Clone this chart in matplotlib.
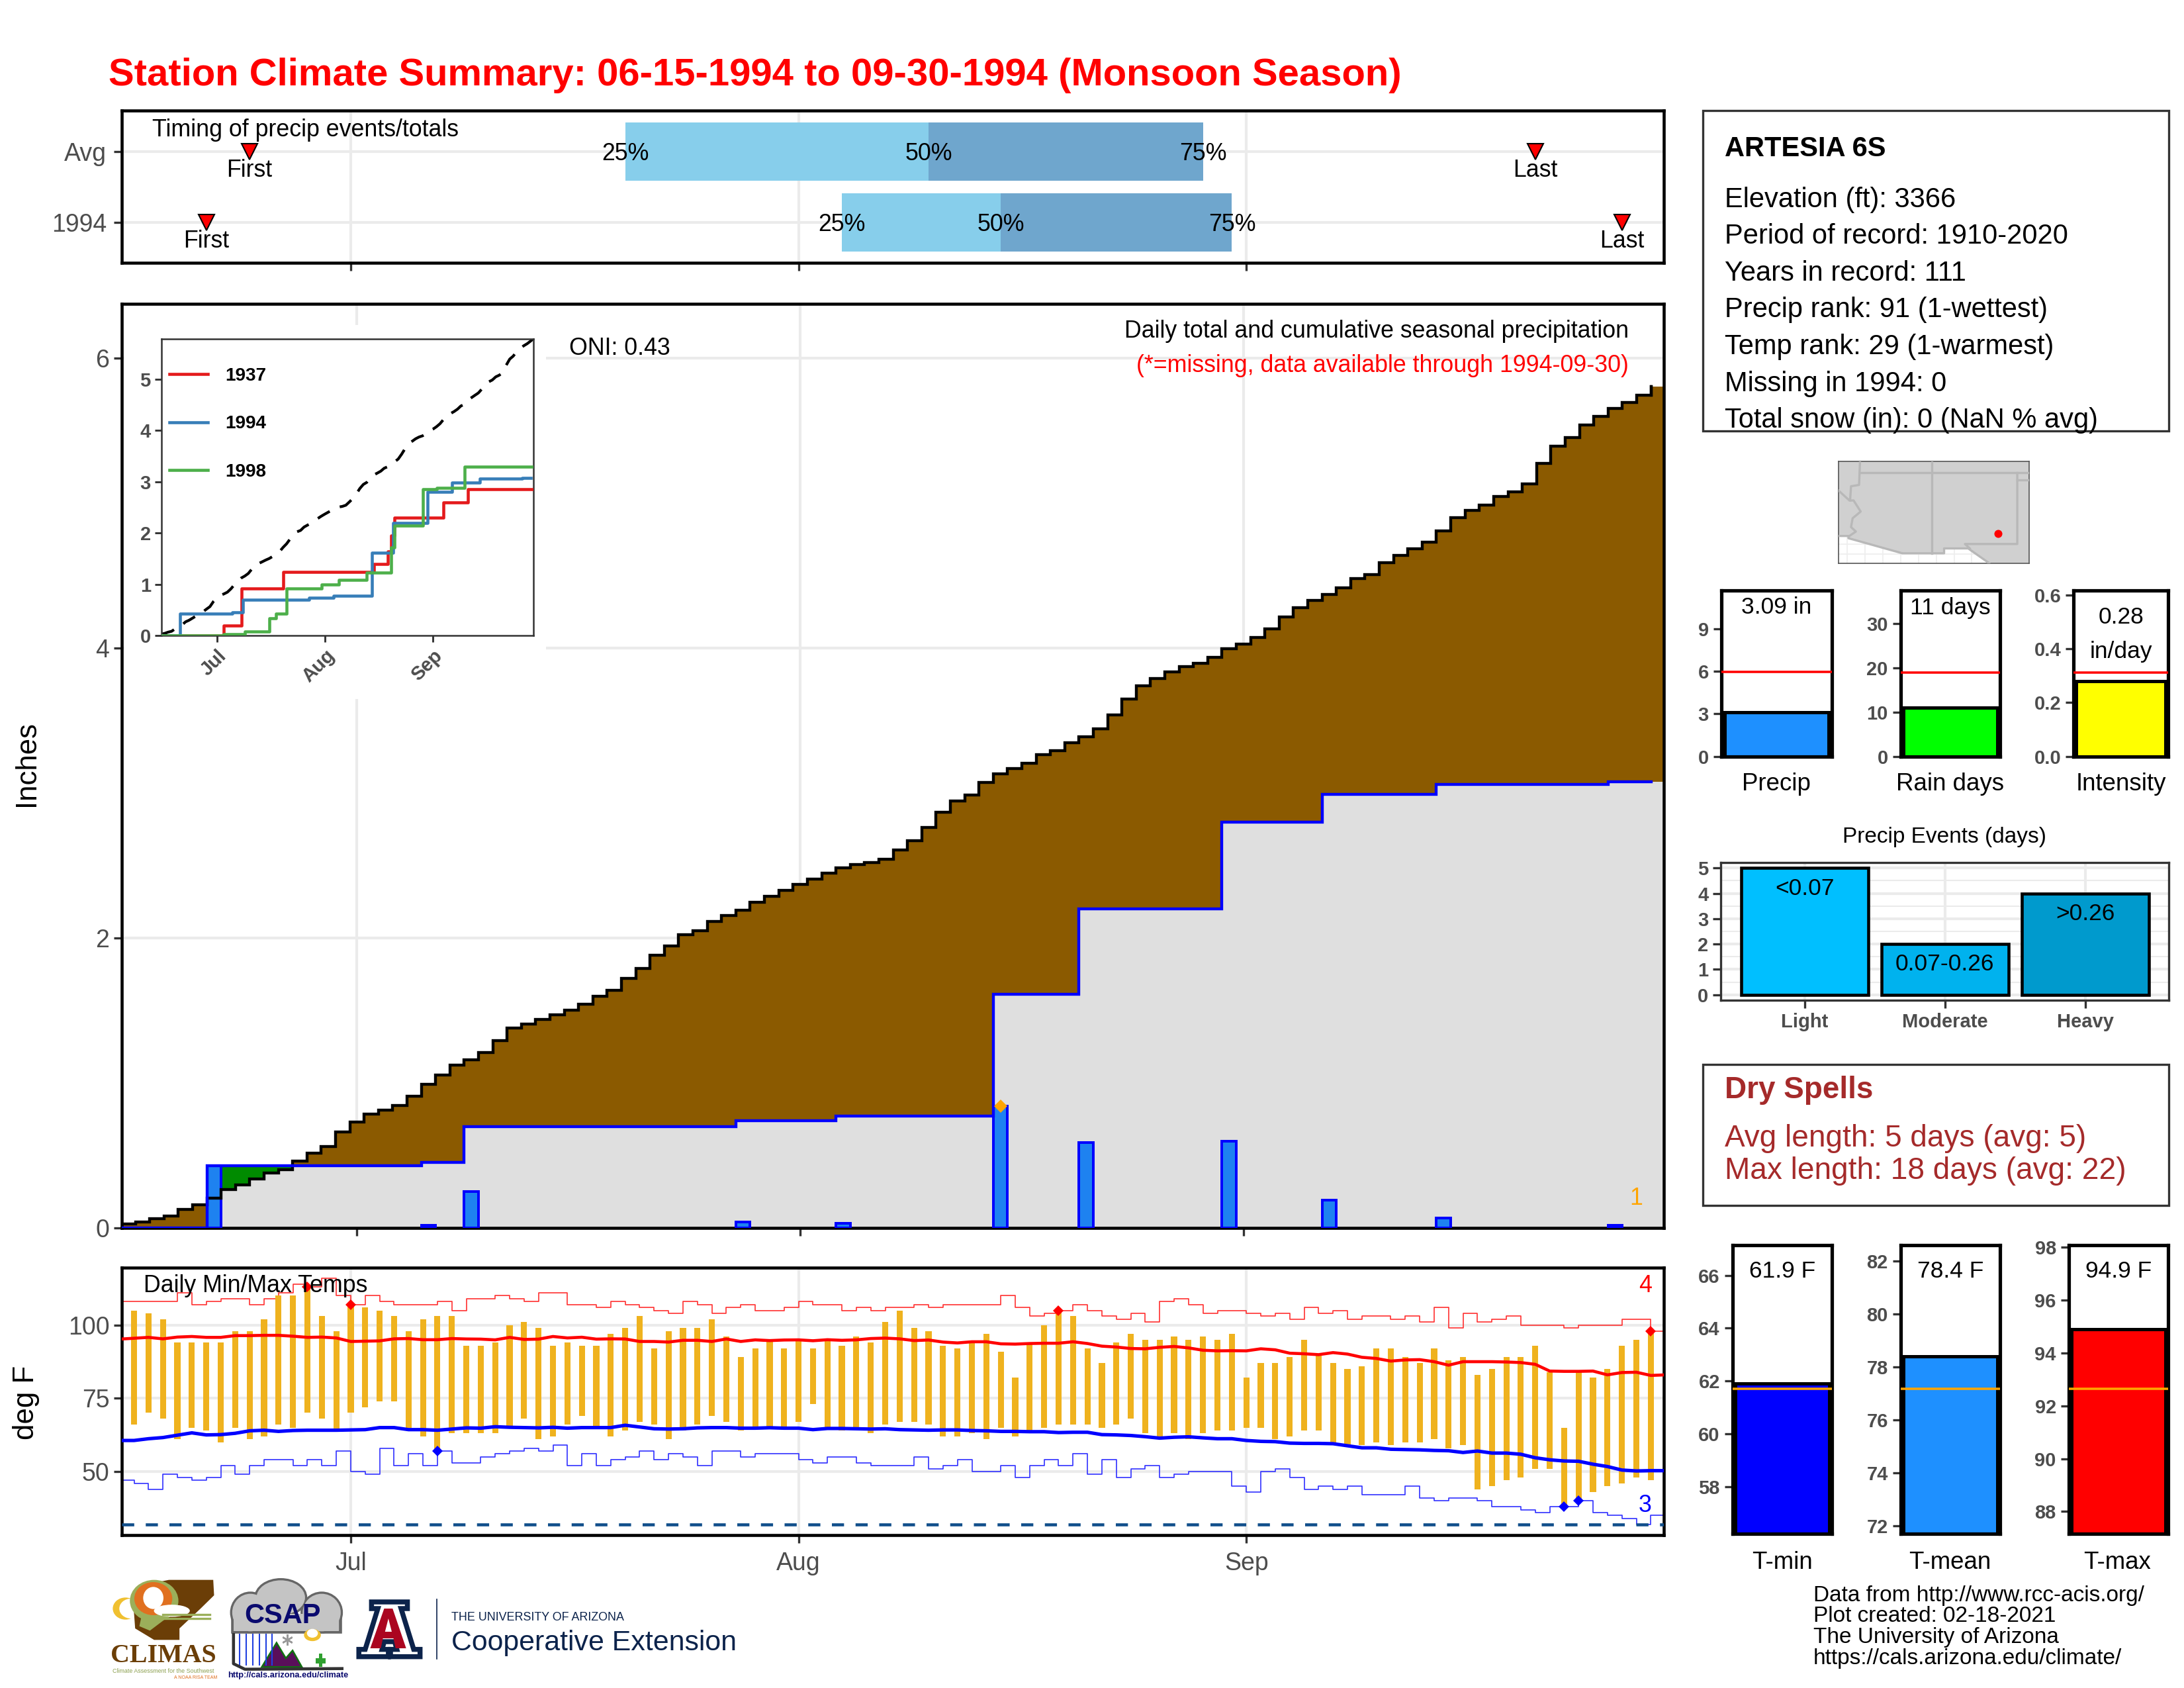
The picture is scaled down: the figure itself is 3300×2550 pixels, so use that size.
import numpy as np
import matplotlib
matplotlib.use("Agg")
import matplotlib.pyplot as plt
from matplotlib.patches import Rectangle, Ellipse, Polygon
from matplotlib.ticker import FixedLocator

plt.rcParams['font.family'] = ['Liberation Sans', 'DejaVu Sans']

W, H = 3300, 2550
# ---------------- data ----------------
month_ticks = [16, 47, 78]
month_labels = ['Jul', 'Aug', 'Sep']

avg_cum = [0.026,0.041,0.065,0.082,0.128,0.16,0.205,0.266,0.297,0.338,0.38,0.403,0.461,0.514,0.563,
           0.662,0.73,0.784,0.811,0.845,0.909,0.989,1.055,1.122,1.16,1.21,1.294,1.38,1.405,1.438,
           1.472,1.502,1.542,1.598,1.639,1.72,1.79,1.883,1.944,2.024,2.05,2.116,2.154,2.192,2.245,
           2.286,2.33,2.37,2.408,2.447,2.484,2.507,2.519,2.542,2.606,2.673,2.763,2.868,2.947,2.988,
           3.075,3.133,3.168,3.206,3.264,3.293,3.346,3.39,3.442,3.538,3.649,3.742,3.789,3.838,3.873,
           3.896,3.937,3.995,4.027,4.074,4.132,4.214,4.278,4.33,4.368,4.415,4.479,4.508,4.589,4.639,
           4.686,4.732,4.808,4.898,4.95,4.985,5.047,5.079,5.131,5.274,5.393,5.451,5.539,5.597,5.652,
           5.693,5.745,5.804]
rain_days = [6, 21, 24, 43, 50, 61, 67, 77, 84, 92, 104]
rain_vals = [0.43, 0.02, 0.25, 0.04, 0.03, 0.84, 0.59, 0.60, 0.19, 0.07, 0.02]

# Inset: other years (day of change, cumulative)
y1937_days = [0, 18, 23, 35, 61, 65, 66, 67, 81, 88, 107]
y1937_vals = [0, 0.20, 0.92, 1.245, 1.39, 1.64, 1.95, 2.30, 2.59, 2.86, 2.86]
y1998_days = [0, 18, 24, 31, 33, 36, 46, 51, 59, 66, 67, 75, 79, 87, 107]
y1998_vals = [0, 0.03, 0.08, 0.34, 0.42, 0.92, 1.0, 1.09, 1.23, 1.72, 2.15, 2.86, 2.88, 3.29, 3.29]
inset_years = ['1937', '1994', '1998']

tmax = [105,104,102,94,94,94,94,98,98,102,110,110,113,103,98,107,106,105,103,98,102,103,103,93,93,94,
        100,101,99,93,94,93,93,97,99,103,92,98,99,99,102,96,89,92,95,92,95,92,95,93,96,94,101,105,99,
        98,93,92,94,97,91,82,94,100,105,103,92,87,94,97,95,95,96,95,96,95,97,82,87,87,89,95,90,87,85,
        86,92,92,89,87,92,88,89,83,85,89,89,93,84,65,84,82,85,93,95,98]
tmin = [66,70,68,61,65,64,60,65,61,62,66,65,70,68,64,70,72,74,74,65,62,57,63,63,63,63,65,68,61,62,66,
        69,65,62,64,67,66,61,64,66,69,67,64,65,65,65,67,73,65,64,65,63,66,67,67,66,62,62,63,61,65,62,
        64,65,66,66,66,65,66,68,63,62,63,61,63,64,64,65,65,61,62,64,64,60,59,59,60,59,60,60,61,58,59,
        44,45,47,48,51,51,38,40,43,45,46,48,47]
mean_high = [95.2,95.5,95.8,95.3,95.9,96.1,95.8,95.8,96.4,96.4,96.5,96.5,96.2,95.8,95.9,95.6,94.4,94.5,
             94.6,95.3,95.4,95.0,95.0,95.4,95.25,95.2,94.95,95.8,95.1,95.2,96.1,95.6,95.85,95.2,95.3,
             95.25,94.4,94.4,94.2,94.8,94.8,94.4,95.25,94.4,94.95,94.7,94.9,94.95,94.65,95.0,94.8,
             94.95,95.4,95.55,95.3,94.7,94.9,94.2,93.9,94.3,94.3,93.6,93.5,93.7,93.8,93.8,94.3,93.7,
             92.8,92.5,92.0,91.9,92.4,92.7,92.2,91.4,91.2,91.25,91.2,91.9,91.55,90.4,90.2,89.9,90.6,
             90.1,89.0,88.6,87.7,88.1,88.2,87.5,86.3,87.5,87.5,87.5,87.4,87.2,86.6,84.3,84.2,84.2,
             84.3,83.0,83.8,83.9,82.8,83.0]
mean_low = [60.6,60.6,61.2,61.6,62.4,63.2,62.5,62.6,63.05,63.9,64.1,63.7,64.0,64.1,64.1,64.1,64.2,64.3,
            65.0,65.0,64.3,64.3,64.1,64.5,64.9,64.8,65.3,65.1,65.0,64.9,65.1,64.8,65.0,65.0,65.0,65.8,
            65.2,64.6,64.5,64.6,64.9,65.0,65.0,64.8,64.8,64.95,64.8,64.8,64.3,64.7,64.7,64.6,64.5,64.6,
            64.3,64.2,64.1,64.2,64.2,64.0,63.9,63.7,63.7,63.6,63.6,63.3,63.4,63.4,62.6,62.5,62.3,61.9,
            61.4,61.7,61.85,61.5,61.2,61.2,60.6,60.3,60.2,59.7,59.6,59.6,59.5,58.8,58.1,58.1,57.6,57.5,
            57.4,57.2,57.1,56.5,57.0,56.3,56.3,55.9,54.7,54.0,53.6,53.5,52.5,51.7,50.5,50.2,50.3,50.3]
rec_high = [108,108,108,108,111,107,108,109,109,107,109,111,114,113,116,110,107,110,108,107,107,107,108,
            105,109,109,110,109,108,111,111,107,107,106,108,107,106,105,104,108,107,104,106,107,105,105,
            106,108,107,107,105,106,105,106,106,107,106,107,107,107,107,110,106,103,104,105,107,105,103,
            102,104,101,108,109,107,104,105,105,104,103,104,102,106,104,105,102,103,103,102,103,101,106,
            99,104,101,102,103,100,100,100,99,100,100,100,102,102,98,98]
rec_low = [47,46,44,49,48,47,48,52,49,52,54,54,52,54,52,57,50,49,58,52,56,52,57,53,53,55,56,57,58,57,59,
           52,56,52,54,55,57,54,56,55,52,57,57,55,56,56,56,54,53,55,55,53,52,52,52,55,51,52,54,50,50,52,
           48,52,54,52,56,49,54,48,51,52,48,49,50,50,50,45,43,50,51,48,44,45,44,45,42,42,42,45,41,40,41,
           41,40,38,38,37,36,38,38,40,36,35,34,32,35,35]
freeze_line = 32
rec_high_days = [13, 16, 65, 106]
rec_high_vals = [113, 107, 105, 98]
rec_low_days = [22, 100, 101]
rec_low_vals = [57, 38, 40]

timing_years = ['1994', 'Avg']
first_day = [6, 9]
last_day = [104, 98]
q25 = [50, 35]
q50 = [61, 56]
q75 = [77, 75]

precip_total, precip_avg = 3.09, 5.95
rain_total, rain_avg = 11, 18.9
intensity, intensity_avg = 0.28, 0.3125
event_cats = ['Light', 'Moderate', 'Heavy']
event_vals = [5, 2, 4]
event_labels = ['<0.07', '0.07-0.26', '>0.26']
event_colors = ['#00BFFF', '#00B2EE', '#009ACD']
temp_vals = [61.9, 78.4, 94.9]
temp_avgs = [61.7, 77.16, 92.63]
temp_cols = ['#0000FF', '#1E90FF', '#FF0000']
temp_names = ['T-min', 'T-mean', 'T-max']
temp_labels = ['61.9 F', '78.4 F', '94.9 F']

info_lines = ['Elevation (ft): 3366', 'Period of record: 1910-2020', 'Years in record: 111',
              'Precip rank: 91 (1-wettest)', 'Temp rank: 29 (1-warmest)', 'Missing in 1994: 0',
              'Total snow (in): 0 (NaN % avg)']
footer_lines = ['Data from http://www.rcc-acis.org/', 'Plot created: 02-18-2021',
                'The University of Arizona', 'https://cals.arizona.edu/climate/']

# Map outline, in the map panel's own units
land_x = [490,490,522,522,690,820,820,895,960,1085,1085]
land_y = [817,985,985,990,1024,1024,1013,1013,1046,1046,817]
river_x = [490,525,538,560,535,530,545,525]
river_y = [882,905,905,930,945,965,975,985]
border_ne_x = [527,530,555,558]
border_ne_y = [905,873,870,817]
border_n_x = [558,1085]; border_n_y = [843,843]
border_mid_x = [781,781]; border_mid_y = [817,1024]
border_e_x = [1048,1048,885,900]; border_e_y = [843,1003,1003,1013]
border_ok_x = [1048,1085]; border_ok_y = [858,858]
station_x, station_y = 988, 979

# ---------------- helpers ----------------
GRID = '#EBEBEB'; TICK = '#333333'; LAB = '#4D4D4D'

fig = plt.figure(figsize=(11, 8.5), dpi=300, facecolor='white')

def pax(l, t, r, b, **kw):
    return fig.add_axes([l/W, 1-b/H, (r-l)/W, (b-t)/H], **kw)

def frame(ax, lw=1.1, color='black'):
    for s in ax.spines.values():
        s.set_linewidth(lw); s.set_color(color)

def ticks(ax, size=9, bold=False, length=2.9, width=0.8, pad=1.6):
    ax.tick_params(axis='both', length=length, width=width, color=TICK, labelcolor=LAB,
                   labelsize=size, pad=pad)
    if bold:
        for t in ax.get_xticklabels()+ax.get_yticklabels():
            t.set_fontweight('bold')

def stepify(y):
    y = np.asarray(y, float)
    i = np.arange(len(y))
    xs = np.column_stack([i-0.5, i+0.5]).ravel()
    ys = np.repeat(y, 2)
    return xs, ys

days = np.arange(len(avg_cum))
daily = np.zeros(len(avg_cum)); daily[rain_days] = rain_vals
obs_cum = np.cumsum(daily)
tdays = np.arange(1, len(tmax)+1)
line_days = np.arange(len(mean_high))

# ---------------- timing panel ----------------
XLIM2 = (0.15, 106.9)
a = pax(184, 167, 2514, 397)
a.set_xlim(*XLIM2); a.set_ylim(0.43, 2.58)
a.set_axisbelow(True)
a.set_xticks(month_ticks); a.set_xticklabels([])
a.set_yticks([1, 2]); a.set_yticklabels(timing_years)
a.grid(True, color=GRID, lw=1)
pos = [1, 2]
a.barh(pos, np.subtract(q50, q25), left=q25, height=0.83, color='#87CEEB', zorder=2)
a.barh(pos, np.subtract(q75, q50), left=q50, height=0.83, color='#6FA6CD', zorder=2)
a.plot(first_day, pos, 'v', color='red', mec='black', mew=0.5, ms=5.6, zorder=3, ls='none')
a.plot(last_day, pos, 'v', color='red', mec='black', mew=0.5, ms=5.6, zorder=3, ls='none')
for i, p in enumerate(pos):
    for q, s in zip((q25[i], q50[i], q75[i]), ('25%', '50%', '75%')):
        a.text(q, p-0.03, s, ha='center', va='center', fontsize=8.6, zorder=4)
    a.text(first_day[i], p-0.265, 'First', ha='center', va='center', fontsize=8.6, zorder=4)
    a.text(last_day[i], p-0.265, 'Last', ha='center', va='center', fontsize=8.6, zorder=4)
ticks(a, 9, pad=2.6)
frame(a)

# ---------------- main precip panel ----------------
m = pax(184, 459, 2514, 1855)
m.set_xlim(-0.45, 107.4); m.set_ylim(0, 6.375)
m.set_axisbelow(True)
m.set_xticks(month_ticks); m.set_xticklabels([])
m.set_yticks([0, 2, 4, 6])
m.grid(True, color=GRID, lw=1)
xs, ya = stepify(avg_cum)
_, yo = stepify(obs_cum)
m.fill_between(xs, 0, np.minimum(ya, yo), color='#DFDFDF', lw=0, zorder=2)
m.fill_between(xs, yo, ya, where=ya >= yo, color='#8B5A00', lw=0, zorder=2)
m.fill_between(xs, ya, yo, where=yo >= ya, color='#008B00', lw=0, zorder=2)
m.bar(rain_days, rain_vals, width=1.0, color='#1E82F0', edgecolor='#0000FF', lw=0.95, zorder=3)
m.plot(xs[:-1], ya[:-1], color='black', lw=1.05, zorder=4, solid_joinstyle='miter', clip_on=True)
m.plot([xs[-2]]*2, [ya[-3], ya[-1]], color='black', lw=1.05, zorder=4)
m.plot(xs[:-2], yo[:-2], color='#0000FF', lw=1.05, zorder=5, solid_joinstyle='miter')
m.plot([rain_days[5]], [rain_vals[5]], 'D', color='#FFA500', ms=3.4, mew=0, zorder=6)
ticks(m, 9)
frame(m)

# white backing of the inset
fig.add_artist(Rectangle((188/W, 1-1056/H), (825-188)/W, (1056-491)/H, transform=fig.transFigure,
                         fc='white', ec='none', zorder=2))

# ---------------- inset ----------------
n = pax(244, 512.5, 806, 960)
n.set_zorder(3)
n.set_xlim(0.1, 106.8); n.set_ylim(0, 5.78)
n.plot(days, avg_cum, color='black', lw=1.0, dashes=(5, 4), zorder=2)
l37, = n.step(y1937_days, y1937_vals, where='post', color='#E41A1C', lw=1.1, label=inset_years[0], zorder=3)
l94, = n.step(days[:-1], obs_cum[:-1], where='mid', color='#377EB8', lw=1.1, label=inset_years[1], zorder=3)
l98, = n.step(y1998_days, y1998_vals, where='post', color='#4DAF4A', lw=1.1, label=inset_years[2], zorder=4)
leg = n.legend(handles=[l37, l94, l98], loc='upper left', frameon=False, prop={'size': 6.7, 'weight': 'bold'},
               handlelength=2.05, handletextpad=0.96, labelspacing=1.66, borderaxespad=0, borderpad=0,
               bbox_to_anchor=(0.022, 0.905))
n.set_xticks(month_ticks); n.set_xticklabels(month_labels)
n.set_yticks(range(6))
ticks(n, 7, True, length=2.3, width=0.7)
for t in n.get_xticklabels():
    t.set_rotation(45); t.set_ha('right'); t.set_rotation_mode('anchor'); t.set_va('top')
frame(n, 0.6, '#333333')

# ---------------- temperature panel ----------------
t = pax(184, 1915, 2514, 2319)
t.set_xlim(*XLIM2); t.set_ylim(28.3, 119.6)
t.set_axisbelow(True)
t.set_xticks(month_ticks); t.set_xticklabels(month_labels)
t.set_yticks([50, 75, 100])
t.grid(True, color=GRID, lw=1)
t.step(line_days, rec_high, where='post', color='#FF3030', lw=0.4, zorder=2)
t.step(line_days, rec_low, where='post', color='#3030FF', lw=0.4, zorder=2)
t.bar(tdays, np.subtract(tmax, tmin), bottom=tmin, width=0.42, color='#EFB21E', lw=0, zorder=3)
t.plot(line_days, mean_high, color='#FF0000', lw=1.1, zorder=4)
t.plot(line_days, mean_low, color='#0000FF', lw=1.25, zorder=4)
t.axhline(freeze_line, color='#104E8B', lw=1.1, dashes=(4, 3.8), zorder=4)
t.plot(rec_high_days, rec_high_vals, 'D', color='#FF0000', ms=2.7, mew=0, zorder=5, ls='none')
t.plot(rec_low_days, rec_low_vals, 'D', color='#0000FF', ms=2.7, mew=0, zorder=5, ls='none')
ticks(t, 9)
t.tick_params(axis='x', pad=3)
frame(t)

# ---------------- small bar panels ----------------
def small_bar(box, val, col, avg, ylim, yt, avgcol='red', ytl=None, lw=1.2):
    ax = pax(*box)
    ax.set_xlim(-0.478, 0.478); ax.set_ylim(*ylim)
    ax.set_xticks([]); ax.set_yticks(yt)
    if ytl: ax.set_yticklabels(ytl)
    ax.bar([0], [val-ylim[0]], bottom=ylim[0], width=0.9, color=col, edgecolor='black', lw=lw, zorder=2)
    ax.axhline(avg, color=avgcol, lw=0.85, zorder=3)
    ticks(ax, 7, True)
    frame(ax, 1.25)
    return ax

p1 = small_bar((2600.6, 892, 2768, 1142.6), precip_total, '#1E90FF', precip_avg, (0, 11.7), [0, 3, 6, 9])
p1.text(0, 10.5, '3.09 in', ha='center', va='center', fontsize=8.5)
p2 = small_bar((2871.6, 892, 3022, 1142.6), rain_total, '#00FF00', rain_avg, (0, 37.5), [0, 10, 20, 30])
p2.text(0, 33.6, '11 days', ha='center', va='center', fontsize=8.5)
p3 = small_bar((3133, 892, 3276, 1142.6), intensity, '#FFFF00', intensity_avg, (0, 0.618), [0, 0.2, 0.4, 0.6],
               ytl=['0.0', '0.2', '0.4', '0.6'])
p3.text(0, 0.518, '0.28', ha='center', va='center', fontsize=8.5)
p3.text(0, 0.389, 'in/day', ha='center', va='center', fontsize=8.5)

tboxes = [(2617.6, 1881, 2768, 2317), (2871.6, 1881, 3022, 2317), (3125.6, 1881, 3276, 2317)]
tlims = [(56.22, 67.14), (71.7, 82.59), (87.16, 98.07)]
tticks = [[58, 60, 62, 64, 66], [72, 74, 76, 78, 80, 82], [88, 90, 92, 94, 96, 98]]
tlaby = [66.16, 81.6, 97.08]
for i in range(3):
    q = small_bar(tboxes[i], temp_vals[i], temp_cols[i], temp_avgs[i], tlims[i], tticks[i], avgcol='#FFA500')
    q.text(0, tlaby[i], temp_labels[i], ha='center', va='center', fontsize=8.5)

# ---------------- precip events ----------------
e = pax(2600, 1303, 3277, 1511)
e.set_xlim(-0.597, 2.595); e.set_ylim(-0.217, 5.217)
e.set_axisbelow(True)
e.set_xticks(range(3)); e.set_xticklabels(event_cats)
e.set_yticks(range(6))
e.yaxis.set_minor_locator(FixedLocator(np.arange(0.5, 5, 1)))
e.grid(True, which='major', color=GRID, lw=1)
e.grid(True, which='minor', axis='y', color=GRID, lw=0.5)
e.tick_params(which='minor', length=0)
e.bar(range(3), event_vals, width=0.906, color=event_colors, edgecolor='black', lw=1.1, zorder=2)
for i, (s, off) in enumerate(zip(event_labels, (0.82, 0.80, 0.82))):
    e.text(i, event_vals[i]-off, s, ha='center', va='center', fontsize=8.5, zorder=3)
ticks(e, 7, True)
frame(e, 0.8, '#333333')

# ---------------- map ----------------
g = pax(2777.5, 697, 3066, 850.6)
g.set_xlim(490, 1085); g.set_ylim(1046, 817)
g.set_xticks(np.arange(518, 1000, 55.5)); g.set_yticks([1003, 1025])
g.tick_params(length=0, labelbottom=False, labelleft=False)
g.grid(True, color='#EEEEEE', lw=0.4); g.set_axisbelow(True)
g.fill(land_x, land_y, color='#D0D0D0', lw=0, zorder=2)
for bx, by in ((river_x, river_y), (border_ne_x, border_ne_y), (border_n_x, border_n_y),
               (border_mid_x, border_mid_y), (border_e_x, border_e_y), (border_ok_x, border_ok_y),
               (land_x[1:9], land_y[1:9])):
    g.plot(bx, by, color='#B8B8B8', lw=0.8, zorder=3)
g.plot([station_x], [station_y], 'o', color='red', ms=2.9, mew=0, zorder=4)
frame(g, 0.4, '#555555')

# ---------------- overlay (text, boxes, logos) in pixel units ----------------
o = fig.add_axes([0, 0, 1, 1], facecolor='none')
o.set_zorder(10)
o.set_xlim(0, W); o.set_ylim(H, 0); o.axis('off')

def ot(x, y, s, **kw):
    kw.setdefault('va', 'center')
    return o.text(x, y+4, s, **kw)

ot(164, 110, 'Station Climate Summary: 06-15-1994 to 09-30-1994 (Monsoon Season)', color='red',
   fontsize=13.91, fontweight='bold', ha='left')
ot(230, 193, 'Timing of precip events/totals', fontsize=8.6)
ot(860, 522, 'ONI: 0.43', fontsize=8.6)
ot(2461, 497, 'Daily total and cumulative seasonal precipitation', fontsize=8.6, ha='right')
ot(2461, 549, '(*=missing, data available through 1994-09-30)', fontsize=8.6, color='red', ha='right')
ot(2472, 1806, '1', fontsize=8.6, color='#FFA500', ha='center')
ot(217, 1939, 'Daily Min/Max Temps', fontsize=8.6)
ot(2486, 1939, '4', fontsize=8.6, color='red', ha='center')
ot(2486, 2270, '3', fontsize=8.6, color='blue', ha='center')
o.text(40, 1153, 'Inches', fontsize=10.5, rotation=90, va='center', ha='center')
o.text(40, 2119, 'deg F', fontsize=10.5, rotation=90, va='center', ha='center')

# station box
o.add_patch(Rectangle((2573, 167), 704, 484, fc='none', ec='#333333', lw=0.8))
ot(2606, 221, 'ARTESIA 6S', fontsize=10, fontweight='bold')
for i, s in enumerate(info_lines):
    ot(2606, 298+55.5*i, s, fontsize=10)

for s, x in zip(('Precip', 'Rain days', 'Intensity'), (2684, 2947, 3205)):
    ot(x, 1181, s, fontsize=8.8, ha='center')
ot(2938, 1261, 'Precip Events (days)', fontsize=8, ha='center')
o.add_patch(Rectangle((2573, 1608), 704, 212.6, fc='none', ec='#333333', lw=0.8))
ot(2606, 1643, 'Dry Spells', fontsize=11, fontweight='bold', color='#A52A2A')
ot(2606, 1716, 'Avg length: 5 days (avg: 5)', fontsize=11.05, color='#A52A2A')
ot(2606, 1765, 'Max length: 18 days (avg: 22)', fontsize=11.05, color='#A52A2A')
for i, x in enumerate((2693, 2946, 3199)):
    ot(x, 2357, temp_names[i], fontsize=8.8, ha='center')
for i, s in enumerate(footer_lines):
    ot(2740, 2406+31.7*i, s, fontsize=8.03)

# logos (simplified redraws)
def zp(zx, zy):
    return 150+zx/1.568, 2350+zy/3

def zpoly(pts, **kw):
    o.add_patch(Polygon([zp(*p) for p in pts], closed=True, **kw))

def zell(cx, cy, w, h, **kw):
    o.add_patch(Ellipse(zp(cx, cy), w/1.568, h/3, **kw))

zell(62, 240, 60, 100, fc='#F0C030', ec='none')
zell(75, 240, 55, 90, fc='white', ec='none')
zpoly([(165,110),(270,110),(272,180),(240,240),(190,330),(190,382),(130,382),(85,330),(80,200),(110,130)], fc='#6B3E07', ec='none')
zell(130, 205, 115, 190, fc='#9BAF5A', ec='none')
zell(128, 195, 90, 150, fc='#E07020', ec='none')
zell(128, 192, 48, 100, fc='white', ec='none')
zell(172, 250, 85, 55, fc='white', ec='none')
zpoly([(100,275),(165,275),(120,340),(95,320)], fc='#9BAF5A', ec='none')
o.plot(*zip(zp(150, 268), zp(262, 268)), color='#9BAF5A', lw=0.8)
o.plot(*zip(zp(150, 285), zp(262, 285)), color='#9BAF5A', lw=0.8)
ax, ay = zp(152, 455)
o.text(ax, ay, 'CLIMAS', family=['Liberation Serif'], fontsize=9.6, fontweight='bold', color='#6B3E07', ha='center', va='center')
ax, ay = zp(152, 524)
o.text(ax, ay, 'Climate Assessment for the Southwest', fontsize=2.15, color='#8CA050', ha='center', va='center')
ax, ay = zp(228, 553)
o.text(ax, ay, 'A NOAA RISA TEAM', fontsize=1.7, color='#E07020', ha='center', va='center')

cloud_ell = [(430, 190, 115, 156), (358, 258, 86, 170), (527, 258, 90, 170)]
for cx, cy, w_, h_ in cloud_ell:
    zell(cx, cy, w_, h_, fc='#C4C4C4', ec='#666666', lw=1.6)
o.add_patch(Rectangle(zp(315, 270), 255/1.568, 76/3, fc='#C4C4C4', ec='#666666', lw=1.1))
for cx, cy, w_, h_ in cloud_ell:
    zell(cx, cy, w_, h_, fc='#C4C4C4', ec='none')
zpoly([(318,265),(567,265),(567,342),(318,342)], fc='#C4C4C4', ec='none')
ax, ay = zp(435, 272)
o.text(ax, ay, 'CSAP', fontsize=10, fontweight='bold', color='#0A0A6E', ha='center', va='center')
for bx in (332, 348, 364, 380, 395, 409):
    o.plot(*zip(zp(bx, 358), zp(bx, 495)), color='#2040E0', lw=0.5)
o.plot(*zip(zp(318, 358), zp(318, 490), zp(345, 515), zp(575, 512)), color='#333333', lw=1.1)
zpoly([(385,505),(420,395),(442,465),(458,430),(480,505)], fc='#5A0F5A', ec='#107010', lw=0.6)
ax, ay = zp(445, 382)
o.plot([ax], [ay], marker=(6, 2, 0), color='#999999', ms=4, mew=0.6)
zell(505, 360, 40, 55, fc='#F0C030', ec='none')
zell(505, 352, 26, 40, fc='white', ec='none')
zpoly([(520,445),(528,445),(528,505),(520,505)], fc='#30A030', ec='none')
zpoly([(512,465),(536,465),(536,490),(512,490)], fc='#30A030', ec='none')
ax, ay = zp(448, 543)
o.text(ax, ay, 'http://cals.arizona.edu/climate', fontsize=3.05, fontweight='bold', color='#0A0A6E', ha='center', va='center')

A_outer = [(645,210),(730,210),(730,240),(715,240),(745,425),(760,425),(760,458),(690,458),(690,425),(705,425),
           (700,390),(675,390),(670,425),(685,425),(685,458),(615,458),(615,425),(630,425),(660,240),(645,240)]
zpoly(A_outer, fc='white', ec='#0C234B', lw=1.8)
zpoly([(675,240),(695,240),(727,420),(702,420),(697,375),(672,375),(667,420),(642,420)], fc='#AB0520', ec='none')
zpoly([(685,285),(677,345),(693,345)], fc='white', ec='none')
o.plot([660, 660], [2416, 2506], color='#0C234B', lw=0.4)
o.text(682, 2444, 'THE UNIVERSITY OF ARIZONA', fontsize=4.3, color='#0C234B', va='center')
o.text(682, 2482, 'Cooperative Extension', fontsize=10.3, color='#0C234B', va='center')

fig.savefig('out.png', dpi=300, facecolor='white')
